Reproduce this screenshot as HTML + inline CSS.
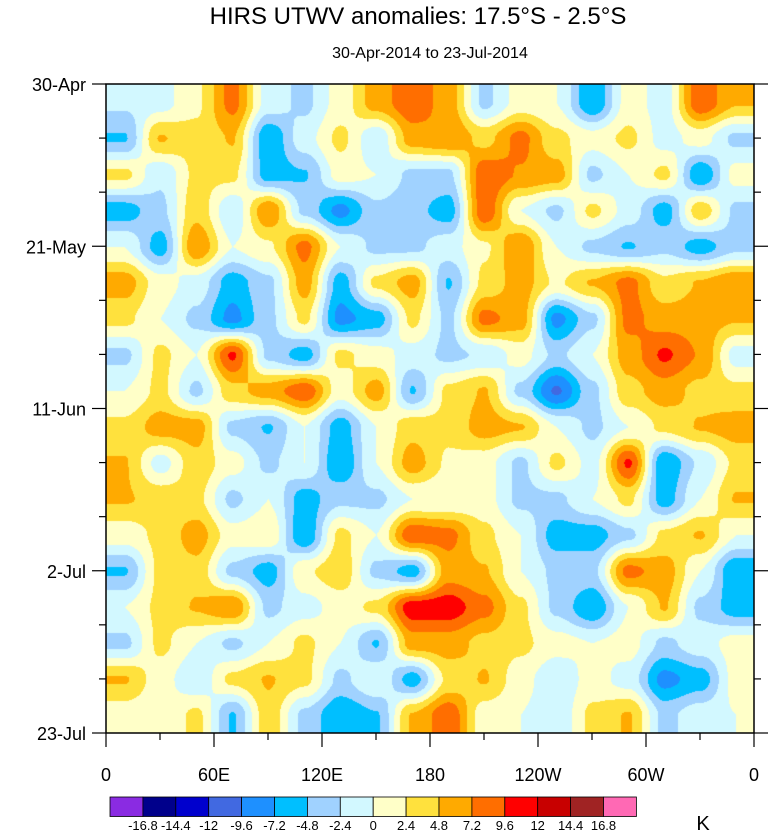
<!DOCTYPE html>
<html><head><meta charset="utf-8">
<style>
body{margin:0;background:#fff;width:774px;height:834px;overflow:hidden;position:relative;font-family:"Liberation Sans",sans-serif}
canvas{position:absolute;left:106px;top:84px}
svg{position:absolute;left:0;top:0}
</style></head><body>
<canvas id="cv" width="648" height="649"></canvas>
<svg id="sv" width="774" height="834"></svg>
<script>
const levels=[-16.8,-14.4,-12,-9.6,-7.2,-4.8,-2.4,0,2.4,4.8,7.2,9.6,12,14.4,16.8];
const levelLabels=["-16.8","-14.4","-12","-9.6","-7.2","-4.8","-2.4","0","2.4","4.8","7.2","9.6","12","14.4","16.8"];
const colors=["#8a2be2","#00008b","#0000cd","#4169e1","#1e90ff","#00bfff","#a0d2ff","#d2f8ff","#ffffc8","#ffe13d","#ffaa00","#ff6e00","#ff0000","#c80000","#a02323","#ff69b4"];
const xTickLabels=["0","60E","120E","180","120W","60W","0"];
const yTickLabels=["30-Apr","21-May","11-Jun","2-Jul","23-Jul"];
// anomaly grid (K): 18 rows (time) x 18 cols (longitude)
const r0=[-2,-1,2,8,-1,-3,1,6,9,6,-3,1,0,-7,1,-1,9,5];
const r1=[-5,5,3,5,-7,-1,3,-2,6,7,4,8,3,1,3,-1,1,-3];
const r2=[3,-2,3,3,-6,-5,1,0,-3,-3,9,7,6,-3,0,3,-7,1];
const r3=[-6,-3,4,-2,7,-3,-8,-3,-4,-6,9,0,-3,3,-1,-6,4,-3];
const r4=[0,-6,7,0,2,8,0,-3,-3,-1,2,7,0,-3,-5,-3,-6,-3];
const r5=[6,1,-1,-6,-3,6,-6,3,6,-5,3,6,2,5,8,3,5,7];
const r6=[3,0,-3,-8,-3,3,-8,-6,3,-3,8,6,-8,-3,8,6,6,5];
const r7=[-3,3,0,10,-3,-6,3,1,-1,-3,-2,1,-3,0,6,10,7,-1];
const r8=[0,3,-3,4,6,9,1,6,-5,3,5,-3,-10,-3,4,6,4,3];
const r9=[3,6,6,-3,-5,0,-6,0,4,3,6,5,0,-3,0,3,5,6];
const r10=[5,-1,4,1,-3,0,-7,0,6,2,1,-3,3,-1,10,-7,-2,3];
const r11=[5,4,3,-3,0,-6,-3,-3,0,0,1,-3,-3,0,3,-6,0,5];
const r12=[1,3,6,1,2,-7,3,0,9,8,3,0,-6,-6,-3,3,5,0];
const r13=[-5,3,4,-3,-6,2,4,-3,-6,6,5,0,-3,-3,8,6,0,-7];
const r14=[0,3,5,7,-3,-1,1,3,11,11,8,3,-3,-7,0,5,-3,-6];
const r15=[-3,3,0,-3,0,3,0,-5,6,6,4,3,1,0,1,-3,-1,1];
const r16=[5,1,-2,3,5,3,-3,0,-6,3,5,1,-2,1,-1,-8,-6,1];
const r17=[1,0,3,-5,4,-3,-7,-5,5,9,1,0,-2,3,5,-3,-1,0];
const grid=[r0,r1,r2,r3,r4,r5,r6,r7,r8,r9,r10,r11,r12,r13,r14,r15,r16,r17];

const PL=106,PT=84,PW=648,PH=649;
function hex(c){return [parseInt(c.substr(1,2),16),parseInt(c.substr(3,2),16),parseInt(c.substr(5,2),16)];}
const rgb=colors.map(hex);
function ss(t){return t*t*(3-2*t);}
(function(){
 const cv=document.getElementById('cv'),ctx=cv.getContext('2d');
 const img=ctx.createImageData(PW,PH);const R=grid.length,C=grid[0].length;
 for(let y=0;y<PH;y++){const gy=Math.min(Math.max(y/PH*R-0.5,0),R-1);const y0=Math.floor(gy),y1=Math.min(y0+1,R-1),fy=ss(gy-y0);
  for(let x=0;x<PW;x++){const gx=Math.min(Math.max(x/PW*C-0.5,0),C-1);const x0=Math.floor(gx),x1=Math.min(x0+1,C-1),fx=ss(gx-x0);
   const v=(grid[y0][x0]*(1-fx)+grid[y0][x1]*fx)*(1-fy)+(grid[y1][x0]*(1-fx)+grid[y1][x1]*fx)*fy;
   let i=0;while(i<levels.length&&v>=levels[i])i++;const c=rgb[i];const k=(y*PW+x)*4;
   img.data[k]=c[0];img.data[k+1]=c[1];img.data[k+2]=c[2];img.data[k+3]=255;}}
 ctx.putImageData(img,0,0);
})();
const NS="http://www.w3.org/2000/svg";const sv=document.getElementById('sv');
function el(t,a,p){const e=document.createElementNS(NS,t);for(const k in a)e.setAttribute(k,a[k]);(p||sv).appendChild(e);return e;}
function txt(s,a){const e=el('text',a);e.textContent=s;return e;}
const t1=txt("HIRS UTWV anomalies: 17.5°S - 2.5°S",{x:418,y:24,'font-size':24,'text-anchor':'middle','font-family':'Liberation Sans'});


const t2=txt("30-Apr-2014 to 23-Jul-2014",{x:430,y:58,'font-size':16,'text-anchor':'middle','font-family':'Liberation Sans'});


const fr=el('rect',{x:PL,y:PT,width:PW,height:PH,fill:'none',stroke:'#000','stroke-width':1.5});


const nDays=84;
for(let d=0;d<=nDays;d+=7){const y=PT+d/nDays*PH;const major=d%21===0;const L=major?14:7;
 el('line',{x1:PL-L,y1:y,x2:PL,y2:y,stroke:'#000','stroke-width':1.2});
 el('line',{x1:PL+PW,y1:y,x2:PL+PW+L,y2:y,stroke:'#000','stroke-width':1.2});
 if(major){const l=txt(yTickLabels[d/21],{x:PL-20,y:y+7,'font-size':18,'text-anchor':'end','font-family':'Liberation Sans'});
  
  }}
for(let i=0;i<=12;i++){const x=PL+i/12*PW;const major=i%2===0;const L=major?14:7;
 el('line',{x1:x,y1:PT+PH,x2:x,y2:PT+PH+L,stroke:'#000','stroke-width':1.2});
 if(major){const l=txt(xTickLabels[i/2],{x:x,y:781,'font-size':18,'text-anchor':'middle','font-family':'Liberation Sans'});
  
  }}
const cbx=110,cbw=32.9,cby=797,cbh=19.5;
colors.forEach((c,i)=>{const r=el('rect',{x:cbx+i*cbw,y:cby,width:cbw,height:cbh,fill:c,stroke:'#000','stroke-width':0.8});
 
 });
levelLabels.forEach((s,i)=>{const l=txt(s,{x:cbx+(i+1)*cbw,y:830,'font-size':13,'text-anchor':'middle','font-family':'Liberation Sans'});
 
 });
const k=txt("K",{x:703,y:830,'font-size':20,'text-anchor':'middle','font-family':'Liberation Sans'});


</script>
</body></html>
